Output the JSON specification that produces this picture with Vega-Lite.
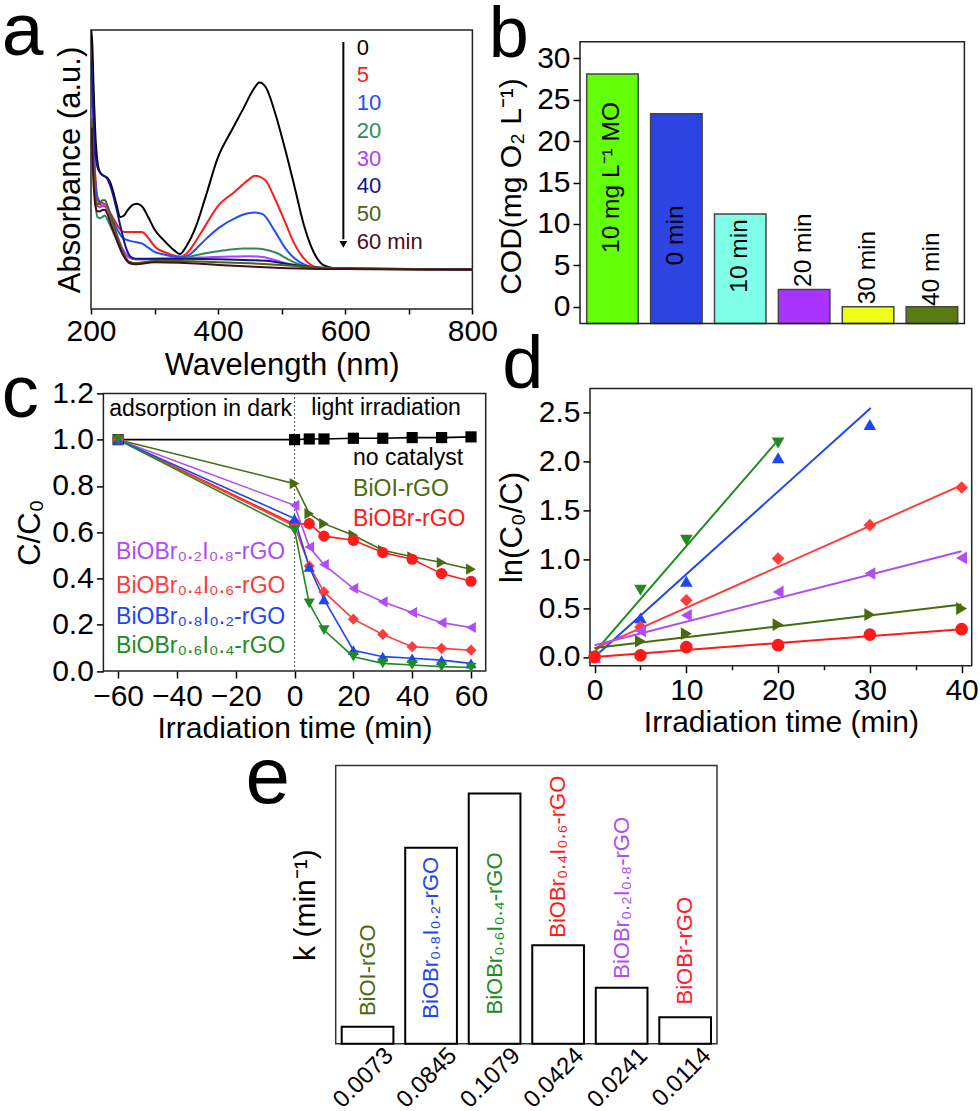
{
"$schema": "https://vega.github.io/schema/vega-lite/v6.json",
"padding": {"left": 0, "top": -7, "right": 0, "bottom": 0},
"config": {
  "font": "Liberation Sans",
  "view": {"stroke": null},
  "axis": {"labelColor": "#000", "titleColor": "#000", "tickColor": "#000", "tickWidth": 1.5, "domain": false, "grid": false, "titleFontWeight": "normal", "labelFlush": false, "labelOverlap": false},
  "title": {"fontWeight": "normal", "anchor": "start", "frame": "group", "baseline": "alphabetic", "offset": 0, "color": "#000"}
},
"datasets": {
  "specA": [
    {"s":"0","w":200.3,"A":1.0},{"s":"0","w":202,"A":0.95},{"s":"0","w":204,"A":0.8},{"s":"0","w":207,"A":0.62},{"s":"0","w":210,"A":0.53},{"s":"0","w":214,"A":0.49},{"s":"0","w":218,"A":0.48},{"s":"0","w":222,"A":0.475},{"s":"0","w":226,"A":0.47},{"s":"0","w":230,"A":0.455},{"s":"0","w":235,"A":0.42},{"s":"0","w":240,"A":0.375},{"s":"0","w":246,"A":0.33},{"s":"0","w":252,"A":0.335},{"s":"0","w":258,"A":0.355},{"s":"0","w":265,"A":0.372},{"s":"0","w":272,"A":0.377},{"s":"0","w":280,"A":0.368},{"s":"0","w":290,"A":0.33},{"s":"0","w":300,"A":0.285},{"s":"0","w":315,"A":0.245},{"s":"0","w":330,"A":0.212},{"s":"0","w":340,"A":0.197},{"s":"0","w":350,"A":0.225},{"s":"0","w":365,"A":0.295},{"s":"0","w":380,"A":0.4},{"s":"0","w":400,"A":0.545},{"s":"0","w":420,"A":0.635},{"s":"0","w":440,"A":0.72},{"s":"0","w":455,"A":0.785},{"s":"0","w":465,"A":0.812},{"s":"0","w":475,"A":0.795},{"s":"0","w":490,"A":0.7},{"s":"0","w":505,"A":0.576},{"s":"0","w":520,"A":0.44},{"s":"0","w":535,"A":0.3},{"s":"0","w":550,"A":0.205},{"s":"0","w":565,"A":0.158},{"s":"0","w":580,"A":0.147},{"s":"0","w":600,"A":0.144},{"s":"0","w":700,"A":0.143},{"s":"0","w":800,"A":0.142},
    {"s":"5","w":201,"A":0.78},{"s":"5","w":204,"A":0.6},{"s":"5","w":207,"A":0.47},{"s":"5","w":210,"A":0.4},{"s":"5","w":214,"A":0.375},{"s":"5","w":218,"A":0.37},{"s":"5","w":222,"A":0.368},{"s":"5","w":226,"A":0.355},{"s":"5","w":230,"A":0.345},{"s":"5","w":238,"A":0.313},{"s":"5","w":246,"A":0.285},{"s":"5","w":252,"A":0.276},{"s":"5","w":265,"A":0.276},{"s":"5","w":280,"A":0.276},{"s":"5","w":290,"A":0.255},{"s":"5","w":300,"A":0.225},{"s":"5","w":320,"A":0.2},{"s":"5","w":342,"A":0.188},{"s":"5","w":353,"A":0.205},{"s":"5","w":374,"A":0.277},{"s":"5","w":400,"A":0.37},{"s":"5","w":426,"A":0.42},{"s":"5","w":447,"A":0.462},{"s":"5","w":458,"A":0.478},{"s":"5","w":474,"A":0.462},{"s":"5","w":489,"A":0.397},{"s":"5","w":505,"A":0.313},{"s":"5","w":521,"A":0.229},{"s":"5","w":537,"A":0.176},{"s":"5","w":552,"A":0.152},{"s":"5","w":570,"A":0.146},{"s":"5","w":600,"A":0.144},{"s":"5","w":800,"A":0.142},
    {"s":"10","w":201,"A":0.86},{"s":"10","w":204,"A":0.6},{"s":"10","w":207,"A":0.45},{"s":"10","w":210,"A":0.4},{"s":"10","w":214,"A":0.385},{"s":"10","w":218,"A":0.38},{"s":"10","w":222,"A":0.375},{"s":"10","w":226,"A":0.36},{"s":"10","w":232,"A":0.33},{"s":"10","w":240,"A":0.29},{"s":"10","w":250,"A":0.255},{"s":"10","w":260,"A":0.245},{"s":"10","w":270,"A":0.24},{"s":"10","w":280,"A":0.235},{"s":"10","w":290,"A":0.22},{"s":"10","w":300,"A":0.205},{"s":"10","w":315,"A":0.195},{"s":"10","w":330,"A":0.188},{"s":"10","w":342,"A":0.185},{"s":"10","w":355,"A":0.195},{"s":"10","w":374,"A":0.236},{"s":"10","w":400,"A":0.289},{"s":"10","w":426,"A":0.325},{"s":"10","w":447,"A":0.343},{"s":"10","w":458,"A":0.346},{"s":"10","w":470,"A":0.34},{"s":"10","w":489,"A":0.28},{"s":"10","w":505,"A":0.22},{"s":"10","w":521,"A":0.18},{"s":"10","w":537,"A":0.158},{"s":"10","w":555,"A":0.148},{"s":"10","w":580,"A":0.145},{"s":"10","w":800,"A":0.142},
    {"s":"20","w":201,"A":0.7},{"s":"20","w":204,"A":0.5},{"s":"20","w":207,"A":0.38},{"s":"20","w":210,"A":0.33},{"s":"20","w":214,"A":0.325},{"s":"20","w":218,"A":0.33},{"s":"20","w":222,"A":0.335},{"s":"20","w":226,"A":0.32},{"s":"20","w":232,"A":0.29},{"s":"20","w":240,"A":0.25},{"s":"20","w":250,"A":0.21},{"s":"20","w":260,"A":0.185},{"s":"20","w":270,"A":0.178},{"s":"20","w":300,"A":0.178},{"s":"20","w":340,"A":0.18},{"s":"20","w":360,"A":0.19},{"s":"20","w":380,"A":0.2},{"s":"20","w":400,"A":0.207},{"s":"20","w":420,"A":0.213},{"s":"20","w":440,"A":0.217},{"s":"20","w":460,"A":0.217},{"s":"20","w":480,"A":0.21},{"s":"20","w":495,"A":0.198},{"s":"20","w":510,"A":0.178},{"s":"20","w":525,"A":0.162},{"s":"20","w":540,"A":0.152},{"s":"20","w":560,"A":0.146},{"s":"20","w":600,"A":0.143},{"s":"20","w":800,"A":0.142},
    {"s":"30","w":201,"A":0.72},{"s":"30","w":204,"A":0.52},{"s":"30","w":207,"A":0.4},{"s":"30","w":210,"A":0.37},{"s":"30","w":214,"A":0.365},{"s":"30","w":218,"A":0.37},{"s":"30","w":222,"A":0.375},{"s":"30","w":226,"A":0.36},{"s":"30","w":232,"A":0.32},{"s":"30","w":240,"A":0.27},{"s":"30","w":250,"A":0.215},{"s":"30","w":260,"A":0.185},{"s":"30","w":270,"A":0.178},{"s":"30","w":300,"A":0.18},{"s":"30","w":340,"A":0.182},{"s":"30","w":380,"A":0.185},{"s":"30","w":420,"A":0.188},{"s":"30","w":450,"A":0.189},{"s":"30","w":470,"A":0.186},{"s":"30","w":490,"A":0.175},{"s":"30","w":510,"A":0.162},{"s":"30","w":530,"A":0.152},{"s":"30","w":560,"A":0.145},{"s":"30","w":800,"A":0.142},
    {"s":"40","w":201,"A":0.9},{"s":"40","w":204,"A":0.7},{"s":"40","w":207,"A":0.56},{"s":"40","w":210,"A":0.51},{"s":"40","w":214,"A":0.49},{"s":"40","w":218,"A":0.48},{"s":"40","w":222,"A":0.475},{"s":"40","w":226,"A":0.465},{"s":"40","w":232,"A":0.43},{"s":"40","w":240,"A":0.36},{"s":"40","w":248,"A":0.28},{"s":"40","w":255,"A":0.22},{"s":"40","w":262,"A":0.188},{"s":"40","w":270,"A":0.18},{"s":"40","w":300,"A":0.18},{"s":"40","w":340,"A":0.18},{"s":"40","w":400,"A":0.178},{"s":"40","w":450,"A":0.175},{"s":"40","w":480,"A":0.172},{"s":"40","w":500,"A":0.165},{"s":"40","w":530,"A":0.155},{"s":"40","w":560,"A":0.148},{"s":"40","w":600,"A":0.145},{"s":"40","w":800,"A":0.143},
    {"s":"50","w":201,"A":0.68},{"s":"50","w":204,"A":0.5},{"s":"50","w":207,"A":0.4},{"s":"50","w":210,"A":0.375},{"s":"50","w":214,"A":0.38},{"s":"50","w":218,"A":0.39},{"s":"50","w":222,"A":0.39},{"s":"50","w":226,"A":0.37},{"s":"50","w":232,"A":0.33},{"s":"50","w":240,"A":0.27},{"s":"50","w":250,"A":0.205},{"s":"50","w":260,"A":0.17},{"s":"50","w":270,"A":0.165},{"s":"50","w":300,"A":0.172},{"s":"50","w":340,"A":0.172},{"s":"50","w":400,"A":0.168},{"s":"50","w":450,"A":0.164},{"s":"50","w":500,"A":0.158},{"s":"50","w":550,"A":0.15},{"s":"50","w":600,"A":0.145},{"s":"50","w":800,"A":0.142},
    {"s":"60","w":201,"A":0.65},{"s":"60","w":204,"A":0.45},{"s":"60","w":207,"A":0.37},{"s":"60","w":210,"A":0.35},{"s":"60","w":214,"A":0.35},{"s":"60","w":218,"A":0.355},{"s":"60","w":222,"A":0.355},{"s":"60","w":226,"A":0.34},{"s":"60","w":232,"A":0.3},{"s":"60","w":240,"A":0.25},{"s":"60","w":250,"A":0.195},{"s":"60","w":260,"A":0.165},{"s":"60","w":270,"A":0.16},{"s":"60","w":300,"A":0.168},{"s":"60","w":340,"A":0.166},{"s":"60","w":400,"A":0.158},{"s":"60","w":450,"A":0.152},{"s":"60","w":500,"A":0.147},{"s":"60","w":600,"A":0.143},{"s":"60","w":800,"A":0.141}
  ],
  "legA": [
    {"s":"0","lab":"0","w":618,"A":0.937},{"s":"5","lab":"5","w":618,"A":0.839},{"s":"10","lab":"10","w":618,"A":0.737},{"s":"20","lab":"20","w":618,"A":0.638},{"s":"30","lab":"30","w":618,"A":0.538},{"s":"40","lab":"40","w":618,"A":0.44},{"s":"50","lab":"50","w":618,"A":0.34},{"s":"60","lab":"60 min","w":618,"A":0.24}
  ],
  "arrowA": [{"w":597,"A1":0.957,"A2":0.25,"Ah":0.232}],
  "codB": [
    {"cat":"10 mg L⁻¹ MO","cod":28.1,"ly":6.5},
    {"cat":"0 min","cod":23.3,"ly":5.0},
    {"cat":"10 min","cod":11.2,"ly":1.7},
    {"cat":"20 min","cod":2.1,"ly":2.4},
    {"cat":"30 min","cod":0.0,"ly":0.3},
    {"cat":"40 min","cod":0.0,"ly":0.1}
  ],
  "convC": [
    {"cat":"no catalyst","t":-60,"C":1.0},{"cat":"no catalyst","t":0,"C":1.0},{"cat":"no catalyst","t":5,"C":1.003},{"cat":"no catalyst","t":10,"C":1.003},{"cat":"no catalyst","t":20,"C":1.006},{"cat":"no catalyst","t":30,"C":1.006},{"cat":"no catalyst","t":40,"C":1.009},{"cat":"no catalyst","t":50,"C":1.009},{"cat":"no catalyst","t":60,"C":1.012},
    {"cat":"BiOI-rGO","t":-60,"C":1.0},{"cat":"BiOI-rGO","t":0,"C":0.81},{"cat":"BiOI-rGO","t":5,"C":0.68},{"cat":"BiOI-rGO","t":10,"C":0.637},{"cat":"BiOI-rGO","t":20,"C":0.587},{"cat":"BiOI-rGO","t":30,"C":0.522},{"cat":"BiOI-rGO","t":40,"C":0.494},{"cat":"BiOI-rGO","t":50,"C":0.469},{"cat":"BiOI-rGO","t":60,"C":0.44},
    {"cat":"BiOBr-rGO","t":-60,"C":1.0},{"cat":"BiOBr-rGO","t":0,"C":0.635},{"cat":"BiOBr-rGO","t":5,"C":0.637},{"cat":"BiOBr-rGO","t":10,"C":0.583},{"cat":"BiOBr-rGO","t":20,"C":0.565},{"cat":"BiOBr-rGO","t":30,"C":0.512},{"cat":"BiOBr-rGO","t":40,"C":0.483},{"cat":"BiOBr-rGO","t":50,"C":0.421},{"cat":"BiOBr-rGO","t":60,"C":0.388},
    {"cat":"BiOBr₀.₂I₀.₈-rGO","t":-60,"C":1.0},{"cat":"BiOBr₀.₂I₀.₈-rGO","t":0,"C":0.716},{"cat":"BiOBr₀.₂I₀.₈-rGO","t":5,"C":0.536},{"cat":"BiOBr₀.₂I₀.₈-rGO","t":10,"C":0.46},{"cat":"BiOBr₀.₂I₀.₈-rGO","t":20,"C":0.357},{"cat":"BiOBr₀.₂I₀.₈-rGO","t":30,"C":0.299},{"cat":"BiOBr₀.₂I₀.₈-rGO","t":40,"C":0.253},{"cat":"BiOBr₀.₂I₀.₈-rGO","t":50,"C":0.209},{"cat":"BiOBr₀.₂I₀.₈-rGO","t":60,"C":0.188},
    {"cat":"BiOBr₀.₄I₀.₆-rGO","t":-60,"C":1.0},{"cat":"BiOBr₀.₄I₀.₆-rGO","t":0,"C":0.627},{"cat":"BiOBr₀.₄I₀.₆-rGO","t":5,"C":0.454},{"cat":"BiOBr₀.₄I₀.₆-rGO","t":10,"C":0.342},{"cat":"BiOBr₀.₄I₀.₆-rGO","t":20,"C":0.224},{"cat":"BiOBr₀.₄I₀.₆-rGO","t":30,"C":0.158},{"cat":"BiOBr₀.₄I₀.₆-rGO","t":40,"C":0.105},{"cat":"BiOBr₀.₄I₀.₆-rGO","t":50,"C":0.098},{"cat":"BiOBr₀.₄I₀.₆-rGO","t":60,"C":0.09},
    {"cat":"BiOBr₀.₈I₀.₂-rGO","t":-60,"C":1.0},{"cat":"BiOBr₀.₈I₀.₂-rGO","t":0,"C":0.659},{"cat":"BiOBr₀.₈I₀.₂-rGO","t":5,"C":0.45},{"cat":"BiOBr₀.₈I₀.₂-rGO","t":10,"C":0.31},{"cat":"BiOBr₀.₈I₀.₂-rGO","t":20,"C":0.09},{"cat":"BiOBr₀.₈I₀.₂-rGO","t":30,"C":0.062},{"cat":"BiOBr₀.₈I₀.₂-rGO","t":40,"C":0.055},{"cat":"BiOBr₀.₈I₀.₂-rGO","t":50,"C":0.047},{"cat":"BiOBr₀.₈I₀.₂-rGO","t":60,"C":0.033},
    {"cat":"BiOBr₀.₆I₀.₄-rGO","t":-60,"C":1.0},{"cat":"BiOBr₀.₆I₀.₄-rGO","t":0,"C":0.609},{"cat":"BiOBr₀.₆I₀.₄-rGO","t":5,"C":0.292},{"cat":"BiOBr₀.₆I₀.₄-rGO","t":10,"C":0.177},{"cat":"BiOBr₀.₆I₀.₄-rGO","t":20,"C":0.062},{"cat":"BiOBr₀.₆I₀.₄-rGO","t":30,"C":0.033},{"cat":"BiOBr₀.₆I₀.₄-rGO","t":40,"C":0.026},{"cat":"BiOBr₀.₆I₀.₄-rGO","t":50,"C":0.019},{"cat":"BiOBr₀.₆I₀.₄-rGO","t":60,"C":0.015}
  ],
  "textC": [
    {"lab":"adsorption in dark","cat":"no catalyst","t":-63,"C":1.102},
    {"lab":"light irradiation","cat":"no catalyst","t":5.7,"C":1.107},
    {"lab":"no catalyst","cat":"no catalyst","t":19.9,"C":0.889},
    {"lab":"BiOI-rGO","cat":"BiOI-rGO","t":19.9,"C":0.757},
    {"lab":"BiOBr-rGO","cat":"BiOBr-rGO","t":19.9,"C":0.627},
    {"lab":"BiOBr₀.₂I₀.₈-rGO","cat":"BiOBr₀.₂I₀.₈-rGO","t":-60.7,"C":0.486},
    {"lab":"BiOBr₀.₄I₀.₆-rGO","cat":"BiOBr₀.₄I₀.₆-rGO","t":-60.7,"C":0.339},
    {"lab":"BiOBr₀.₈I₀.₂-rGO","cat":"BiOBr₀.₈I₀.₂-rGO","t":-60.7,"C":0.205},
    {"lab":"BiOBr₀.₆I₀.₄-rGO","cat":"BiOBr₀.₆I₀.₄-rGO","t":-60.7,"C":0.076}
  ],
  "kinD": [
    {"cat":"BiOBr₀.₆I₀.₄-rGO","t":0,"v":0},{"cat":"BiOBr₀.₆I₀.₄-rGO","t":5,"v":0.683},{"cat":"BiOBr₀.₆I₀.₄-rGO","t":10,"v":1.195},{"cat":"BiOBr₀.₆I₀.₄-rGO","t":20,"v":2.19},
    {"cat":"BiOBr₀.₈I₀.₂-rGO","t":0,"v":0},{"cat":"BiOBr₀.₈I₀.₂-rGO","t":5,"v":0.4},{"cat":"BiOBr₀.₈I₀.₂-rGO","t":10,"v":0.775},{"cat":"BiOBr₀.₈I₀.₂-rGO","t":20,"v":2.04},{"cat":"BiOBr₀.₈I₀.₂-rGO","t":30,"v":2.38},
    {"cat":"BiOBr₀.₄I₀.₆-rGO","t":0,"v":0},{"cat":"BiOBr₀.₄I₀.₆-rGO","t":5,"v":0.307},{"cat":"BiOBr₀.₄I₀.₆-rGO","t":10,"v":0.58},{"cat":"BiOBr₀.₄I₀.₆-rGO","t":20,"v":1.007},{"cat":"BiOBr₀.₄I₀.₆-rGO","t":30,"v":1.349},{"cat":"BiOBr₀.₄I₀.₆-rGO","t":40,"v":1.735},
    {"cat":"BiOBr₀.₂I₀.₈-rGO","t":0,"v":0},{"cat":"BiOBr₀.₂I₀.₈-rGO","t":5,"v":0.265},{"cat":"BiOBr₀.₂I₀.₈-rGO","t":10,"v":0.427},{"cat":"BiOBr₀.₂I₀.₈-rGO","t":20,"v":0.666},{"cat":"BiOBr₀.₂I₀.₈-rGO","t":30,"v":0.854},{"cat":"BiOBr₀.₂I₀.₈-rGO","t":40,"v":1.014},
    {"cat":"BiOI-rGO","t":0,"v":0},{"cat":"BiOI-rGO","t":5,"v":0.16},{"cat":"BiOI-rGO","t":10,"v":0.238},{"cat":"BiOI-rGO","t":20,"v":0.33},{"cat":"BiOI-rGO","t":30,"v":0.433},{"cat":"BiOI-rGO","t":40,"v":0.495},
    {"cat":"BiOBr-rGO","t":0,"v":0},{"cat":"BiOBr-rGO","t":5,"v":0.016},{"cat":"BiOBr-rGO","t":10,"v":0.1},{"cat":"BiOBr-rGO","t":20,"v":0.12},{"cat":"BiOBr-rGO","t":30,"v":0.228},{"cat":"BiOBr-rGO","t":40,"v":0.284}
  ],
  "fitD": [
    {"cat":"BiOBr₀.₆I₀.₄-rGO","t":0,"v":0.05},{"cat":"BiOBr₀.₆I₀.₄-rGO","t":20,"v":2.22},
    {"cat":"BiOBr₀.₈I₀.₂-rGO","t":0,"v":0.0},{"cat":"BiOBr₀.₈I₀.₂-rGO","t":30.1,"v":2.55},
    {"cat":"BiOBr₀.₄I₀.₆-rGO","t":0,"v":0.085},{"cat":"BiOBr₀.₄I₀.₆-rGO","t":40,"v":1.76},
    {"cat":"BiOBr₀.₂I₀.₈-rGO","t":0,"v":0.12},{"cat":"BiOBr₀.₂I₀.₈-rGO","t":40,"v":1.083},
    {"cat":"BiOI-rGO","t":0,"v":0.092},{"cat":"BiOI-rGO","t":40,"v":0.536},
    {"cat":"BiOBr-rGO","t":0,"v":0.0},{"cat":"BiOBr-rGO","t":40,"v":0.284}
  ],
  "kE": [
    {"name":"BiOI-rGO","klab":"0.0073","k":0.0073,"ly":0.0119},
    {"name":"BiOBr₀.₈I₀.₂-rGO","klab":"0.0845","k":0.0845,"ly":0.0108},
    {"name":"BiOBr₀.₆I₀.₄-rGO","klab":"0.1079","k":0.1079,"ly":0.0126},
    {"name":"BiOBr₀.₄I₀.₆-rGO","klab":"0.0424","k":0.0424,"ly":0.0457},
    {"name":"BiOBr₀.₂I₀.₈-rGO","klab":"0.0241","k":0.0241,"ly":0.028},
    {"name":"BiOBr-rGO","klab":"0.0114","k":0.0114,"ly":0.0169}
  ]
},
"bounds": "full",
"spacing": -5.6,
"resolve": {"scale": {"color": "independent", "shape": "independent"}},
"vconcat": [
  {
    "bounds": "flush",
    "align": "each",
    "columns": 2,
    "spacing": {"row": 64.4, "column": 94},
    "resolve": {"scale": {"color": "independent", "shape": "independent"}},
    "concat": [
      {
        "width": 381.4, "height": 279,
        "view": {"stroke": "#222", "strokeWidth": 1.5},
        "title": {"text": "a", "fontSize": 75, "dx": -89.3, "dy": 44.7},
        "layer": [
          {
            "data": {"name": "specA"},
            "mark": {"type": "line", "strokeWidth": 2, "interpolate": "monotone", "clip": true},
            "encoding": {
              "x": {"field": "w", "type": "quantitative", "scale": {"domain": [200, 800], "nice": false, "zero": false},
                    "axis": {"values": [200, 300, 400, 500, 600, 700, 800], "labelExpr": "datum.value % 200 === 0 ? datum.label : ''", "tickSize": 5, "labelFontSize": 30, "labelPadding": 2, "title": "Wavelength (nm)", "titleFontSize": 31, "titlePadding": 4}},
              "y": {"field": "A", "type": "quantitative", "scale": {"domain": [0, 1], "nice": false, "zero": false},
                    "axis": {"ticks": false, "labels": false, "title": "Absorbance (a.u.)", "titleFontSize": 31, "titlePadding": 5}},
              "color": {"field": "s", "type": "nominal", "scale": {"domain": ["0","5","10","20","30","40","50","60"], "range": ["#000000","#ff1a1a","#1f4fff","#2e8b57","#b040ff","#14148c","#4d6112","#4a0c1c"]}, "legend": null}
            }
          },
          {
            "data": {"name": "legA"},
            "mark": {"type": "text", "align": "left", "baseline": "middle", "fontSize": 22},
            "encoding": {
              "x": {"field": "w", "type": "quantitative"},
              "y": {"field": "A", "type": "quantitative"},
              "text": {"field": "lab"},
              "color": {"field": "s", "type": "nominal", "legend": null}
            }
          },
          {
            "data": {"name": "arrowA"},
            "mark": {"type": "rule", "strokeWidth": 2, "color": "#000"},
            "encoding": {
              "x": {"field": "w", "type": "quantitative"},
              "y": {"field": "A1", "type": "quantitative"},
              "y2": {"field": "A2"}
            }
          },
          {
            "data": {"name": "arrowA"},
            "mark": {"type": "point", "shape": "triangle-down", "filled": true, "size": 60, "color": "#000", "opacity": 1},
            "encoding": {
              "x": {"field": "w", "type": "quantitative"},
              "y": {"field": "Ah", "type": "quantitative"}
            }
          }
        ]
      },
      {
        "width": 384.4, "height": 293.4,
        "title": {"text": "b", "fontSize": 72, "dx": -91.3, "dy": 45.7},
        "data": {"name": "codB"},
        "layer": [
          {
            "mark": {"type": "bar", "stroke": "#444", "strokeWidth": 1.5},
            "encoding": {
              "x": {"field": "cat", "type": "nominal", "sort": null, "scale": {"paddingInner": 0.194, "paddingOuter": 0.105}, "axis": null},
              "y": {"field": "cod", "type": "quantitative", "scale": {"domain": [-2, 33.412], "nice": false, "zero": false},
                    "axis": {"values": [0, 2.5, 5, 7.5, 10, 12.5, 15, 17.5, 20, 22.5, 25, 27.5, 30], "labelExpr": "datum.value % 5 === 0 ? datum.label : ''", "tickSize": {"condition": {"test": "datum.value % 5 === 0", "value": 7}, "value": 4}, "labelFontSize": 30, "labelPadding": 3, "title": "COD(mg O₂ L⁻¹)", "titleFontSize": 30, "titlePadding": 10, "titleY": 156}},
              "y2": {"datum": -2},
              "color": {"field": "cat", "type": "nominal", "scale": {"domain": ["10 mg L⁻¹ MO","0 min","10 min","20 min","30 min","40 min"], "range": ["#62ff08","#2d44e2","#80ffe8","#aa33ff","#eeff1a","#5a7a12"]}, "legend": null}
            }
          },
          {
            "mark": {"type": "text", "angle": 270, "align": "left", "baseline": "middle", "fontSize": 24.5, "color": "#000"},
            "encoding": {
              "x": {"field": "cat", "type": "nominal", "sort": null},
              "y": {"field": "ly", "type": "quantitative"},
              "text": {"field": "cat"}
            }
          },
          {
            "data": {"values": [{}]},
            "mark": {"type": "rect", "fillOpacity": 0, "stroke": "#222", "strokeWidth": 1.5},
            "encoding": {"y": {"datum": -2, "type": "quantitative"}, "y2": {"datum": 32}}
          }
        ]
      },
      {
        "width": 394.7, "height": 282.6,
        "title": {"text": "c", "fontSize": 74, "dx": -89.3, "dy": 58.3},
        "layer": [
          {
            "data": {"values": [{}]},
            "mark": {"type": "rect", "fillOpacity": 0, "stroke": "#222", "strokeWidth": 1.5},
            "encoding": {"x": {"datum": -65, "type": "quantitative"}, "x2": {"datum": 65}, "y": {"datum": 0, "type": "quantitative"}, "y2": {"datum": 1.2}}
          },
          {
            "data": {"values": [{}]},
            "mark": {"type": "rule", "strokeDash": [2, 2], "color": "#555", "strokeWidth": 1},
            "encoding": {"x": {"datum": 0, "type": "quantitative"}, "y": {"datum": 0, "type": "quantitative"}, "y2": {"datum": 1.2}}
          },
          {
            "data": {"name": "convC"},
            "mark": {"type": "line", "strokeWidth": 1.6},
            "encoding": {
              "x": {"field": "t", "type": "quantitative", "scale": {"domain": [-69.2165, 65], "nice": false, "zero": false},
                    "axis": {"values": [-60, -40, -20, 0, 20, 40, 60], "tickSize": 7, "labelFontSize": 30, "labelPadding": 3, "title": "Irradiation time (min)", "titleFontSize": 30, "titlePadding": 2, "titleX": 203.5}},
              "y": {"field": "C", "type": "quantitative", "scale": {"domain": [0, 1.2216], "nice": false, "zero": false},
                    "axis": {"offset": -12.4, "values": [0, 0.1, 0.2, 0.3, 0.4, 0.5, 0.6, 0.7, 0.8, 0.9, 1.0, 1.1, 1.2], "format": ".1f", "labelExpr": "round(datum.value*10) % 2 === 0 ? datum.label : ''", "tickSize": {"condition": {"test": "round(datum.value*10) % 2 === 0", "value": 7}, "value": 4}, "labelFontSize": 30, "labelPadding": 3, "title": "C/C₀", "titleFontSize": 31, "titlePadding": 5, "titleY": 143.8}},
              "color": {"field": "cat", "type": "nominal", "scale": {"domain": ["no catalyst","BiOI-rGO","BiOBr-rGO","BiOBr₀.₂I₀.₈-rGO","BiOBr₀.₄I₀.₆-rGO","BiOBr₀.₈I₀.₂-rGO","BiOBr₀.₆I₀.₄-rGO"], "range": ["#000000","#4a6a10","#ff1a1a","#b04cf5","#ff3c3c","#1f45f5","#1e8c1e"]}, "legend": null}
            }
          },
          {
            "data": {"name": "convC"},
            "mark": {"type": "point", "filled": true, "size": 125, "opacity": 1},
            "encoding": {
              "x": {"field": "t", "type": "quantitative"},
              "y": {"field": "C", "type": "quantitative"},
              "color": {"field": "cat", "type": "nominal", "legend": null},
              "shape": {"field": "cat", "type": "nominal", "scale": {"domain": ["no catalyst","BiOI-rGO","BiOBr-rGO","BiOBr₀.₂I₀.₈-rGO","BiOBr₀.₄I₀.₆-rGO","BiOBr₀.₈I₀.₂-rGO","BiOBr₀.₆I₀.₄-rGO"], "range": ["square","triangle-right","circle","triangle-left","diamond","triangle-up","triangle-down"]}, "legend": null}
            }
          },
          {
            "data": {"name": "textC"},
            "mark": {"type": "text", "align": "left", "baseline": "alphabetic", "fontSize": 23},
            "encoding": {
              "x": {"field": "t", "type": "quantitative"},
              "y": {"field": "C", "type": "quantitative"},
              "text": {"field": "lab"},
              "color": {"field": "cat", "type": "nominal", "legend": null}
            }
          }
        ]
      },
      {
        "width": 391.7, "height": 277.3,
        "title": {"text": "d", "fontSize": 74, "dx": -77.8, "dy": 20.3},
        "layer": [
          {
            "data": {"values": [{}]},
            "mark": {"type": "rect", "fillOpacity": 0, "stroke": "#222", "strokeWidth": 1.5},
            "encoding": {"x": {"datum": -0.5, "type": "quantitative"}, "x2": {"datum": 41.1}, "y": {"datum": -0.09, "type": "quantitative"}, "y2": {"datum": 2.75}}
          },
          {
            "data": {"name": "fitD"},
            "mark": {"type": "line", "strokeWidth": 2},
            "encoding": {
              "x": {"field": "t", "type": "quantitative", "scale": {"domain": [-1.5899, 41.1], "nice": false, "zero": false},
                    "axis": {"values": [0, 5, 10, 15, 20, 25, 30, 35, 40], "labelExpr": "datum.value % 10 === 0 ? datum.label : ''", "tickSize": {"condition": {"test": "datum.value % 10 === 0", "value": 7}, "value": 4}, "labelFontSize": 30, "labelPadding": 3, "title": "Irradiation time (min)", "titleFontSize": 30, "titlePadding": 2, "titleX": 200.9}},
              "y": {"field": "v", "type": "quantitative", "scale": {"domain": [-0.09, 2.75], "nice": false, "zero": false},
                    "axis": {"offset": -10, "values": [0, 0.25, 0.5, 0.75, 1, 1.25, 1.5, 1.75, 2, 2.25, 2.5], "format": ".1f", "labelExpr": "round(datum.value*4) % 2 === 0 ? datum.label : ''", "tickSize": {"condition": {"test": "round(datum.value*4) % 2 === 0", "value": 7}, "value": 4}, "labelFontSize": 30, "labelPadding": 3, "title": "ln(C₀/C)", "titleFontSize": 31, "titlePadding": 10}},
              "color": {"field": "cat", "type": "nominal", "scale": {"domain": ["no catalyst","BiOI-rGO","BiOBr-rGO","BiOBr₀.₂I₀.₈-rGO","BiOBr₀.₄I₀.₆-rGO","BiOBr₀.₈I₀.₂-rGO","BiOBr₀.₆I₀.₄-rGO"], "range": ["#000000","#4a6a10","#ff1a1a","#b04cf5","#ff3c3c","#1f45f5","#1e8c1e"]}, "legend": null}
            }
          },
          {
            "data": {"name": "kinD"},
            "mark": {"type": "point", "filled": true, "size": 160, "opacity": 1},
            "encoding": {
              "x": {"field": "t", "type": "quantitative"},
              "y": {"field": "v", "type": "quantitative"},
              "color": {"field": "cat", "type": "nominal", "legend": null},
              "shape": {"field": "cat", "type": "nominal", "scale": {"domain": ["no catalyst","BiOI-rGO","BiOBr-rGO","BiOBr₀.₂I₀.₈-rGO","BiOBr₀.₄I₀.₆-rGO","BiOBr₀.₈I₀.₂-rGO","BiOBr₀.₆I₀.₄-rGO"], "range": ["square","triangle-right","circle","triangle-left","diamond","triangle-up","triangle-down"]}, "legend": null}
            }
          }
        ]
      }
    ]
  },
  {
    "bounds": "flush", "spacing": 243.7,
    "hconcat": [
      {"width": 1, "height": 1, "data": {"values": [{}]}, "mark": {"type": "point", "opacity": 0, "size": 1}, "encoding": {}},
      {
        "width": 381.3, "height": 278.3,
        "view": {"stroke": "#333", "strokeWidth": 1.5},
        "title": {"text": "e", "fontSize": 80, "dx": -90.3, "dy": 58.3},
        "data": {"name": "kE"},
        "layer": [
          {
            "mark": {"type": "bar", "fill": "#fff", "stroke": "#000", "strokeWidth": 2},
            "encoding": {
              "x": {"field": "klab", "type": "nominal", "sort": null, "scale": {"paddingInner": 0.186, "paddingOuter": 0.0945},
                    "axis": {"labelAngle": -45, "labelAlign": "right", "labelBaseline": "middle", "labelFontSize": 24, "labelPadding": 8, "labelOffset": 22, "ticks": false, "tickSize": 0, "title": null}},
              "y": {"field": "k", "type": "quantitative", "scale": {"domain": [0, 0.12], "nice": false},
                    "axis": {"ticks": false, "labels": false, "title": "k (min⁻¹)", "titleFontSize": 30, "titlePadding": 15}}
            }
          },
          {
            "mark": {"type": "text", "angle": 270, "align": "left", "baseline": "middle", "fontSize": 22},
            "encoding": {
              "x": {"field": "klab", "type": "nominal", "sort": null},
              "y": {"field": "ly", "type": "quantitative"},
              "text": {"field": "name"},
              "color": {"field": "name", "type": "nominal", "scale": {"domain": ["BiOI-rGO","BiOBr₀.₈I₀.₂-rGO","BiOBr₀.₆I₀.₄-rGO","BiOBr₀.₄I₀.₆-rGO","BiOBr₀.₂I₀.₈-rGO","BiOBr-rGO"], "range": ["#4a6a10","#1f45f5","#1e8c1e","#ff1a1a","#b04cf5","#ff1a2e"]}, "legend": null}
            }
          }
        ]
      }
    ]
  }
]
}
